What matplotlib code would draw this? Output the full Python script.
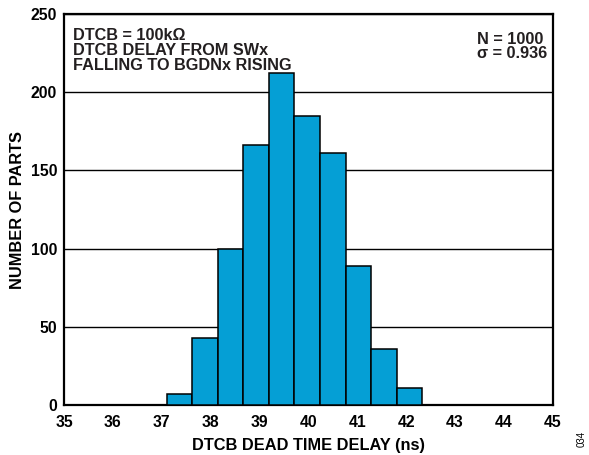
import matplotlib
matplotlib.use('Agg')
from matplotlib import pyplot as plt
import numpy as np

# histogram bins (ns)
bin_start = 37.1
bin_width = 0.523
counts = [7, 43, 100, 166, 212, 185, 161, 89, 36, 11]

x_ticks = [35, 36, 37, 38, 39, 40, 41, 42, 43, 44, 45]
y_ticks = [0, 50, 100, 150, 200, 250]

bar_color = '#059FD5'

plt.rcParams['font.family'] = ['Liberation Sans', 'DejaVu Sans']
plt.rcParams['font.weight'] = 'bold'

fig = plt.figure(figsize=(5.89, 4.55), dpi=100)
ax = fig.add_axes([0.1087, 0.1099, 0.8297, 0.8593])

edges = bin_start + bin_width * np.arange(len(counts))
ax.bar(edges, counts, width=bin_width, align='edge', color=bar_color,
       edgecolor='black', linewidth=1.1, zorder=3)

ax.set_xlim(35, 45)
ax.set_ylim(0, 250)
ax.set_xticks(x_ticks)
ax.set_yticks(y_ticks)
ax.tick_params(length=0, labelsize=11.3, pad=5)
ax.tick_params(axis='x', pad=7)
for lbl in ax.get_xticklabels() + ax.get_yticklabels():
    lbl.set_fontweight('bold')
ax.yaxis.grid(True, color='black', linewidth=1.0, zorder=1)
ax.set_axisbelow(True)
for s in ax.spines.values():
    s.set_linewidth(1.6)

ax.set_xlabel('DTCB DEAD TIME DELAY (ns)', fontsize=11.8, fontweight='bold', labelpad=6)
ax.set_ylabel('NUMBER OF PARTS', fontsize=11.8, fontweight='bold', labelpad=4)

ax.text(0.018, 0.963, 'DTCB = 100kΩ\nDTCB DELAY FROM SWx\nFALLING TO BGDNx RISING',
        transform=ax.transAxes, ha='left', va='top', fontsize=11.7,
        fontweight='bold', linespacing=0.98, color='#231f20')
ax.text(0.845, 0.955, 'N = 1000\nσ = 0.936', transform=ax.transAxes,
        ha='left', va='top', fontsize=11.7, fontweight='bold', linespacing=0.98,
        color='#231f20')

fig.text(0.988, 0.018, '034', rotation=90, fontsize=7, fontweight='normal',
         ha='center', va='bottom')

fig.savefig('out.png', dpi=100)
